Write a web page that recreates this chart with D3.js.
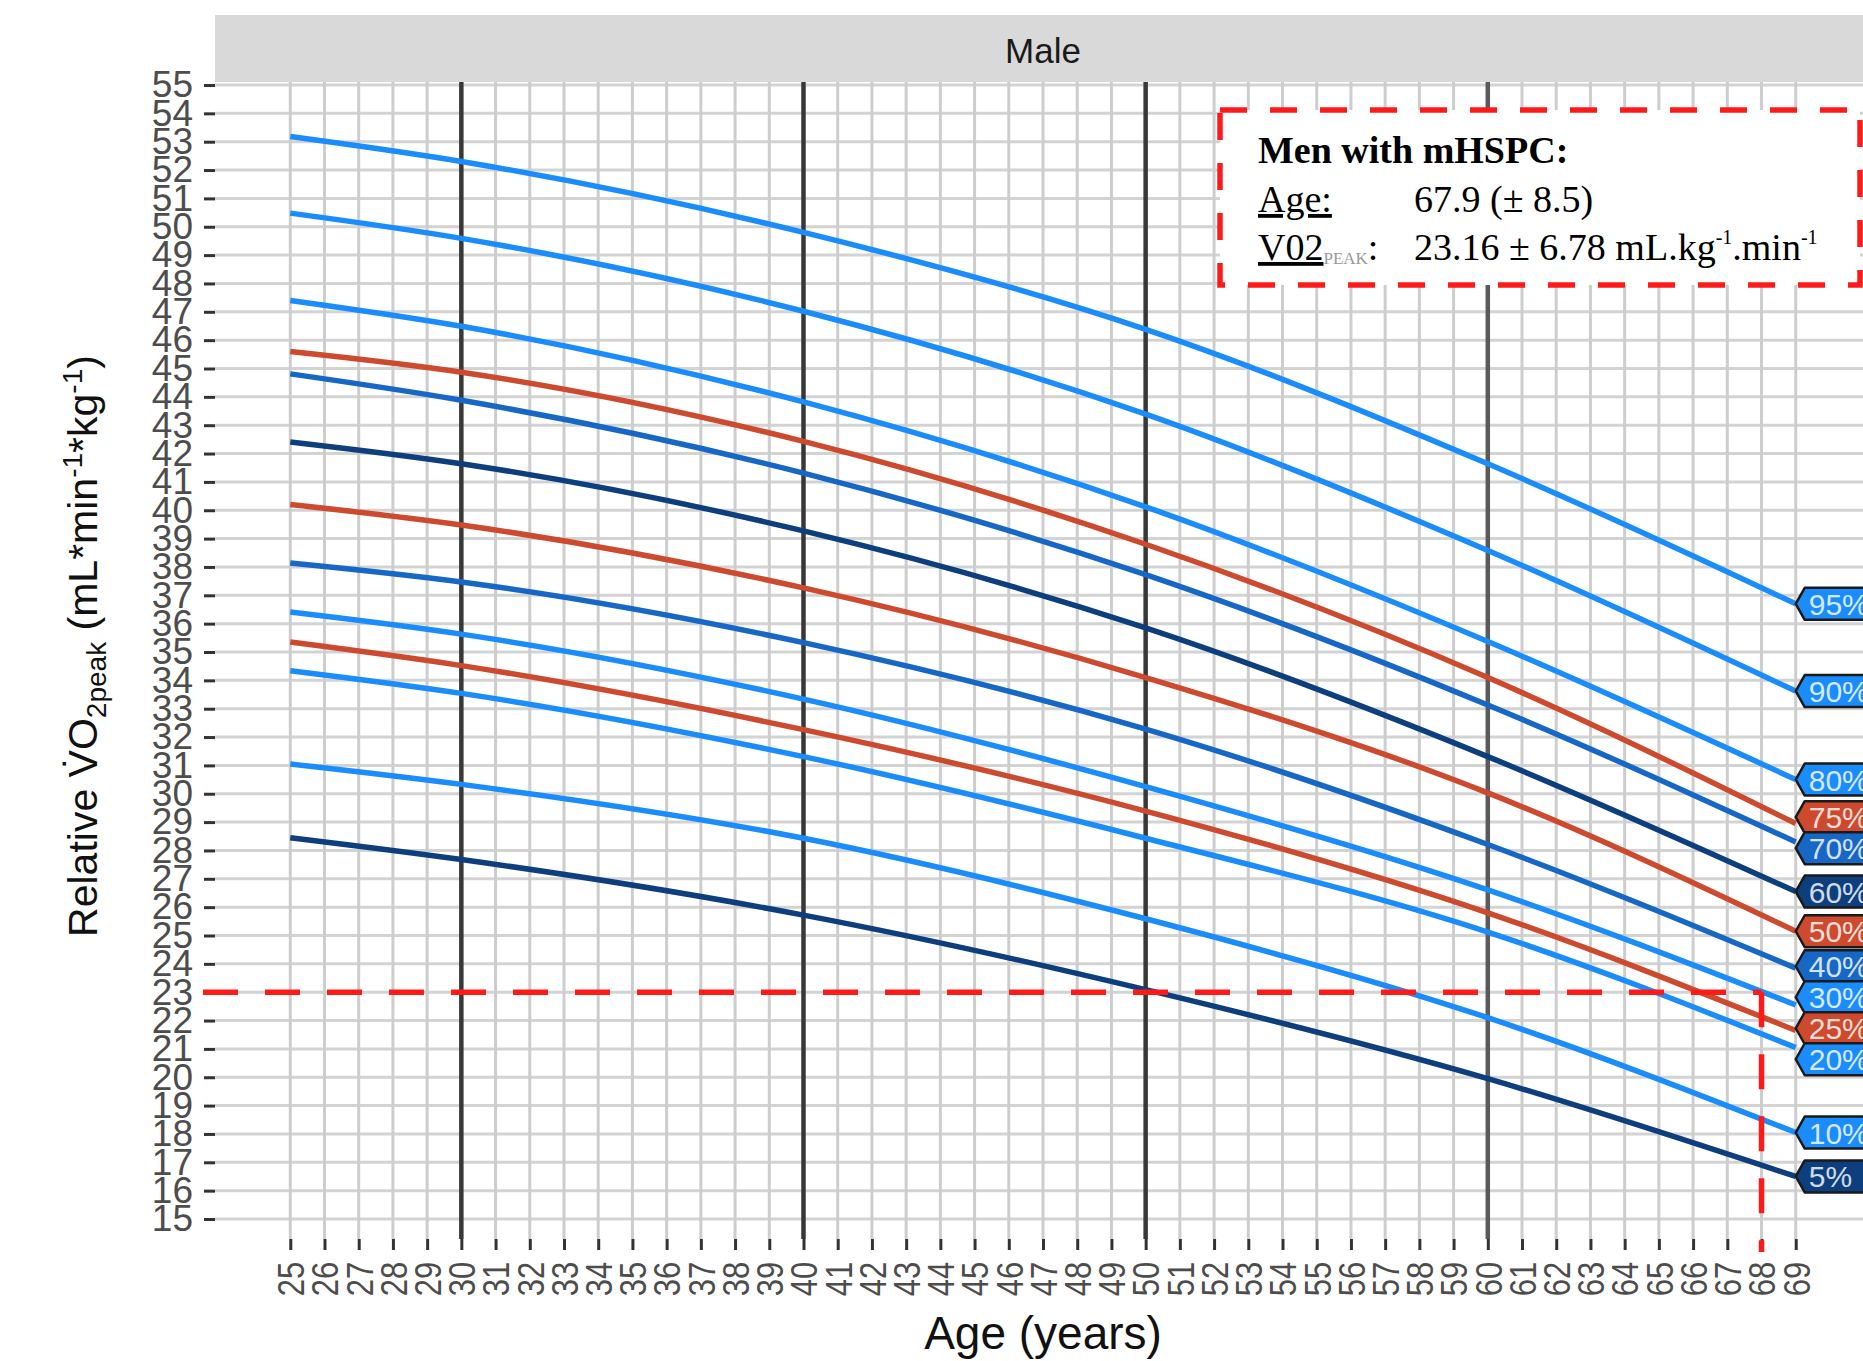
<!DOCTYPE html>
<html>
<head>
<meta charset="utf-8">
<script src="https://cdn.jsdelivr.net/npm/d3@7"></script>
<style>
  html, body { margin: 0; padding: 0; background: #fff; }
  svg { display: block; font-family: "Liberation Sans", Arial, sans-serif; }
</style>
</head>
<body>
<svg id="chart" width="1863" height="1361"></svg>
<script>
const ages = [25, 30, 40, 50, 60, 69];

const percentiles = ["95%", "90%", "80%", "75%", "70%", "60%", "50%", "40%", "30%", "25%", "20%", "10%", "5%"];

// VO2peak per percentile at the ages above
const p95 = [53.18, 52.30, 49.80, 46.38, 41.64, 36.70];
const p90 = [50.48, 49.59, 47.02, 43.39, 38.58, 33.62];
const p80 = [47.40, 46.49, 43.82, 40.12, 35.37, 30.50];
const p75 = [45.60, 44.87, 42.43, 38.80, 34.10, 28.95];
const p70 = [44.81, 43.88, 41.31, 37.73, 33.13, 28.30];
const p60 = [42.41, 41.64, 39.27, 35.85, 31.31, 26.55];
const p50 = [40.20, 39.48, 37.26, 34.10, 30.03, 25.15];
const p40 = [38.14, 37.47, 35.33, 32.28, 28.21, 23.85];
const p30 = [36.41, 35.63, 33.34, 30.25, 26.61, 22.55];
const p25 = [35.35, 34.52, 32.26, 29.39, 25.80, 21.65];
const p20 = [34.34, 33.54, 31.31, 28.43, 25.12, 21.05];
const p10 = [31.05, 30.33, 28.43, 25.59, 22.10, 18.05];
const p5  = [28.45, 27.68, 25.72, 23.09, 19.95, 16.50];

const seriesValues = [p95, p90, p80, p75, p70, p60, p50, p40, p30, p25, p20, p10, p5];

// axis ticks
const xTicks = d3.range(25, 70);
const yTicks = d3.range(15, 56);
const majorAges = [30, 40, 50, 60];

// mHSPC reference point
const refAge = 67.9;
const refVO2 = 23.16;
const refVO2Line = 23;

// colours
const brightBlue = "#1a8cfb";
const midBlue = "#1767c7";
const navy = "#0d3f7e";
const red = "#cd4a2e";
const colourOf = {
  "95%": brightBlue, "90%": brightBlue, "80%": brightBlue, "75%": red,
  "70%": midBlue, "60%": navy, "50%": red, "40%": midBlue,
  "30%": brightBlue, "25%": red, "20%": brightBlue, "10%": brightBlue, "5%": navy
};

const svg = d3.select("#chart");

const panel = { left: 215, right: 1871, top: 82, bottom: 1239 };

const x = d3.scaleLinear().domain([22.8, 71.2]).range([panel.left, panel.right]);
const y = d3.scaleLinear().domain([15, 55]).range([1219, 85]);

// strip
svg.append("rect")
  .attr("x", panel.left).attr("y", 15)
  .attr("width", panel.right - panel.left).attr("height", panel.top - 15)
  .attr("fill", "#d9d9d9");
svg.append("text")
  .attr("x", (panel.left + panel.right) / 2).attr("y", 63)
  .attr("text-anchor", "middle")
  .attr("font-size", 35).attr("fill", "#1a1a1a")
  .text("Male");

// grid
const grid = svg.append("g");
grid.selectAll("line.h")
  .data(yTicks)
  .join("line")
  .attr("class", "h")
  .attr("x1", panel.left).attr("x2", panel.right)
  .attr("y1", d => y(d)).attr("y2", d => y(d))
  .attr("stroke", "#d3d3d3").attr("stroke-width", 3);
grid.selectAll("line.v")
  .data(xTicks.filter(d => !majorAges.includes(d)))
  .join("line")
  .attr("class", "v")
  .attr("x1", d => x(d)).attr("x2", d => x(d))
  .attr("y1", panel.top).attr("y2", panel.bottom)
  .attr("stroke", "#cdcdcd").attr("stroke-width", 3);
grid.selectAll("line.major")
  .data(majorAges)
  .join("line")
  .attr("class", "major")
  .attr("x1", d => x(d)).attr("x2", d => x(d))
  .attr("y1", panel.top).attr("y2", panel.bottom)
  .attr("stroke", d => d === 60 ? "#5a5a5a" : "#383838").attr("stroke-width", 4.5);

// axes
const yAxis = svg.append("g")
  .attr("transform", `translate(${panel.left},0)`)
  .call(d3.axisLeft(y).tickValues(yTicks).tickSize(11).tickPadding(11).tickFormat(d3.format("d")));
yAxis.select(".domain").remove();
yAxis.selectAll(".tick line").attr("stroke", "#333").attr("stroke-width", 3);
yAxis.selectAll(".tick text")
  .attr("font-size", 37).attr("fill", "#4d4d4d")
  .attr("font-family", "Liberation Sans, Arial, sans-serif");

const xAxis = svg.append("g")
  .attr("transform", `translate(0,${panel.bottom})`)
  .call(d3.axisBottom(x).tickValues(xTicks).tickSize(11).tickFormat(d3.format("d")));
xAxis.select(".domain").remove();
xAxis.selectAll(".tick line").attr("stroke", "#333").attr("stroke-width", 3);
xAxis.selectAll(".tick text")
  .attr("font-size", 37).attr("fill", "#4d4d4d")
  .attr("font-family", "Liberation Sans, Arial, sans-serif")
  .attr("text-anchor", "end")
  .attr("transform", "rotate(-90) scale(0.84,1)")
  .attr("x", -27).attr("y", 0).attr("dy", "0.36em");

// axis titles
svg.append("text")
  .attr("x", (panel.left + panel.right) / 2).attr("y", 1349)
  .attr("text-anchor", "middle")
  .attr("font-size", 46).attr("fill", "#111")
  .text("Age (years)");

const yTitle = svg.append("text")
  .attr("transform", "translate(97,646) rotate(-90)")
  .attr("text-anchor", "middle")
  .attr("font-size", 41).attr("fill", "#111");
yTitle.append("tspan").text("Relative V\u0307O");
yTitle.append("tspan").attr("font-size", 28).attr("dy", 9).text("2peak");
yTitle.append("tspan").attr("dy", -9).text(" (mL*min");
yTitle.append("tspan").attr("font-size", 28).attr("dy", -15).text("-1");
yTitle.append("tspan").attr("dy", 15).text("*kg");
yTitle.append("tspan").attr("font-size", 28).attr("dy", -15).text("-1");
yTitle.append("tspan").attr("dy", 15).text(")");

// percentile curves
const line = d3.line()
  .x((d, i) => x(ages[i]))
  .y(d => y(d))
  .curve(d3.curveMonotoneX);

svg.append("g")
  .selectAll("path")
  .data(seriesValues)
  .join("path")
  .attr("d", d => line(d))
  .attr("fill", "none")
  .attr("stroke", (d, i) => colourOf[percentiles[i]])
  .attr("stroke-width", 5.5);

// reference dashed lines
const dashed = svg.append("g")
  .attr("stroke", "#ff1a1a").attr("stroke-width", 5.5)
  .attr("stroke-dasharray", "35 27").attr("fill", "none");
dashed.append("line")
  .attr("x1", 203).attr("x2", x(Math.round(refAge)))
  .attr("y1", y(refVO2Line)).attr("y2", y(refVO2Line));
dashed.append("line")
  .attr("x1", x(Math.round(refAge))).attr("x2", x(Math.round(refAge)))
  .attr("y1", y(refVO2Line)).attr("y2", 1252);

// info box
const box = svg.append("g");
box.append("rect")
  .attr("x", 1220).attr("y", 110).attr("width", 640).attr("height", 175)
  .attr("fill", "#fff")
  .attr("stroke", "#ff1a1a").attr("stroke-width", 5.5)
  .attr("stroke-dasharray", "27 23");

const serif = "Liberation Serif, Times New Roman, serif";
box.append("text")
  .attr("x", 1258).attr("y", 163)
  .attr("font-family", serif).attr("font-weight", "bold")
  .attr("font-size", 38).attr("fill", "#000")
  .text("Men with mHSPC:");

const ageLine = box.append("text")
  .attr("x", 1258).attr("y", 212)
  .attr("font-family", serif).attr("font-size", 38).attr("fill", "#000");
ageLine.append("tspan").attr("text-decoration", "underline").text("Age:");
ageLine.append("tspan").attr("x", 1414).text(`${refAge} (\u00b1 8.5)`);

const vo2Line = box.append("text")
  .attr("x", 1258).attr("y", 260)
  .attr("font-family", serif).attr("font-size", 38).attr("fill", "#000");
vo2Line.append("tspan").attr("text-decoration", "underline").text("V02");
vo2Line.append("tspan").attr("font-size", 17).attr("fill", "#9a9a9a").attr("dy", 4).text("PEAK");
vo2Line.append("tspan").attr("dy", -4).text(":");
vo2Line.append("tspan").attr("x", 1414).text(`${refVO2} \u00b1 6.78 mL.kg`);
vo2Line.append("tspan").attr("font-size", 20).attr("dy", -16).text("-1");
vo2Line.append("tspan").attr("dy", 16).text(".min");
vo2Line.append("tspan").attr("font-size", 20).attr("dy", -16).text("-1");

// end labels, nudged apart so the boxes don't overlap
const labelH = 32;
const minGap = 31;
const labels = percentiles.map((p, i) => ({
  name: p,
  colour: colourOf[p],
  yEnd: y(seriesValues[i][seriesValues[i].length - 1])
}));
labels.forEach(d => d.yc = d.yEnd);
for (let iter = 0; iter < 60; iter++) {
  for (let i = 1; i < labels.length; i++) {
    const a = labels[i - 1], b = labels[i];
    const overlap = minGap - (b.yc - a.yc);
    if (overlap > 0) {
      a.yc -= overlap / 2;
      b.yc += overlap / 2;
    }
  }
}

const x0 = x(69);
const lab = svg.append("g")
  .selectAll("g")
  .data(labels)
  .join("g");
lab.append("path")
  .attr("d", d => {
    const t = d.yc - labelH / 2, b = d.yc + labelH / 2;
    return `M${x0},${d.yc} L${x0 + 9},${t} L${x0 + 120},${t} L${x0 + 120},${b} L${x0 + 9},${b} Z`;
  })
  .attr("fill", d => d.colour)
  .attr("stroke", "#1a1a1a").attr("stroke-width", 2.5)
  .attr("stroke-linejoin", "round");
lab.append("text")
  .attr("x", x0 + 13).attr("y", d => d.yc + 11)
  .attr("font-size", 30).attr("fill", "rgba(255,255,255,0.82)")
  .text(d => d.name);
</script>
</body>
</html>
